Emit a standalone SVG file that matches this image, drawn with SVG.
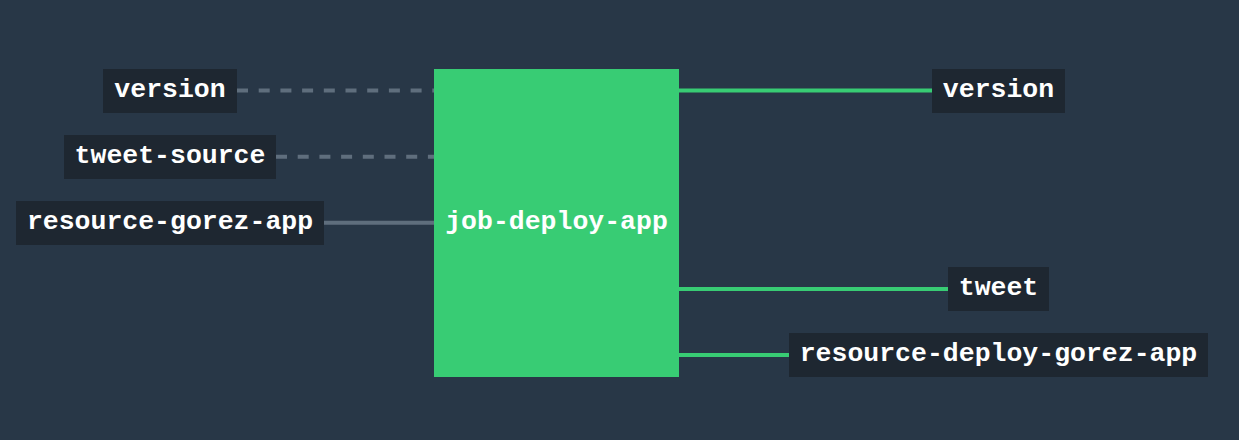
<svg xmlns="http://www.w3.org/2000/svg" width="1239" height="440" viewBox="0 0 1239 440">
<style>
.bg{fill:#283747}
.node rect.box{fill:#1e2731}
.lbl{font-family:"Liberation Mono","DejaVu Sans Mono",monospace;font-weight:bold;font-size:26.5px;fill:#ffffff;text-anchor:middle}
.dash{stroke:#5f6e7d;stroke-width:4;stroke-dasharray:11 10.7;fill:none}
.grey{stroke:#5f6e7d;stroke-width:4;fill:none}
.green{stroke:#38cc74;stroke-width:4;fill:none}
</style>
<rect class="bg" x="0" y="0" width="1239" height="440"/>
<g id="connectors">
<line class="dash" x1="237" y1="90.5" x2="434" y2="90.5"/>
<line class="dash" x1="276" y1="156.7" x2="434" y2="156.7"/>
<line class="grey" x1="324" y1="222.7" x2="434" y2="222.7"/>
<line class="green" x1="679" y1="90.5" x2="932" y2="90.5"/>
<line class="green" x1="679" y1="289" x2="948" y2="289"/>
<line class="green" x1="679" y1="355" x2="789" y2="355"/>
</g>
<g id="job-deploy-app" class="node">
<rect x="434" y="69" width="245" height="308" fill="#38cc74"/>
<text class="lbl" x="556.5" y="229">job-deploy-app</text>
</g>
<g id="in-version" class="node">
<rect class="box" x="103" y="69" width="134" height="44"/>
<text class="lbl" x="170" y="97">version</text>
</g>
<g id="in-tweet-source" class="node">
<rect class="box" x="64" y="135" width="212" height="44"/>
<text class="lbl" x="170" y="163">tweet-source</text>
</g>
<g id="in-resource-gorez-app" class="node">
<rect class="box" x="16" y="201" width="308" height="44"/>
<text class="lbl" x="170" y="229">resource-gorez-app</text>
</g>
<g id="out-version" class="node">
<rect class="box" x="932" y="69" width="133" height="44"/>
<text class="lbl" x="998.5" y="97">version</text>
</g>
<g id="out-tweet" class="node">
<rect class="box" x="948" y="267" width="101" height="44"/>
<text class="lbl" x="998.5" y="295">tweet</text>
</g>
<g id="out-resource-deploy-gorez-app" class="node">
<rect class="box" x="789" y="333" width="419" height="44"/>
<text class="lbl" x="998.5" y="361">resource-deploy-gorez-app</text>
</g>
</svg>
